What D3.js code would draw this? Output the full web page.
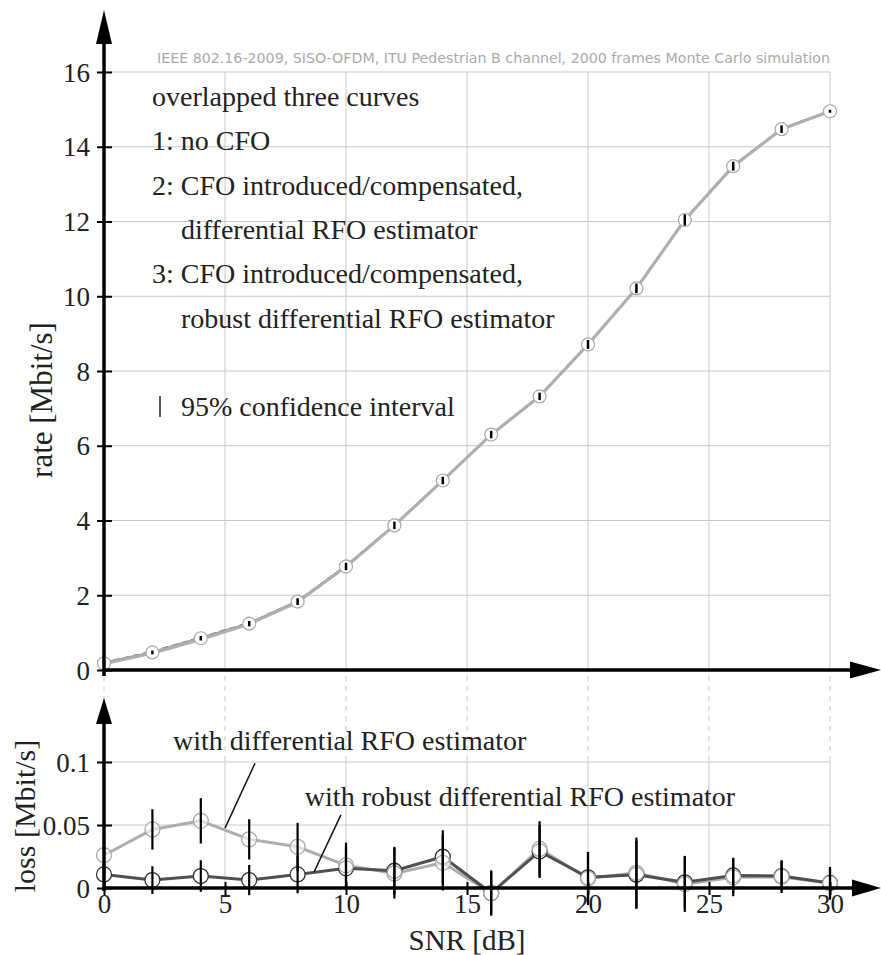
<!DOCTYPE html>
<html>
<head>
<meta charset="utf-8">
<script src="https://cdn.jsdelivr.net/npm/d3@7/dist/d3.min.js"></script>
<style>
  html, body { margin: 0; padding: 0; background: #fff; }
  svg { display: block; }
</style>
</head>
<body>
<svg id="chart" width="881" height="955"></svg>
<script>
// ---------------- data ----------------
const snr = [0, 2, 4, 6, 8, 10, 12, 14, 16, 18, 20, 22, 24, 26, 28, 30];

// upper panel: throughput rate [Mbit/s]
const rateNoCFO  = [0.21, 0.50, 0.88, 1.27, 1.85, 2.80, 3.89, 5.09, 6.31, 7.35, 8.72, 10.22, 12.04, 13.49, 14.48, 14.96];
const rateDiff   = [0.16, 0.44, 0.81, 1.22, 1.81, 2.77, 3.87, 5.07, 6.30, 7.32, 8.71, 10.21, 12.04, 13.48, 14.47, 14.95];
const rateRobust = [0.18, 0.47, 0.85, 1.24, 1.83, 2.77, 3.87, 5.07, 6.30, 7.32, 8.71, 10.21, 12.04, 13.48, 14.47, 14.95];
const rateCI     = [0.03, 0.05, 0.06, 0.07, 0.09, 0.10, 0.10, 0.10, 0.10, 0.10, 0.12, 0.13, 0.15, 0.12, 0.10, 0.04];

// lower panel: rate loss [Mbit/s]
const lossDiff     = [0.026, 0.0465, 0.0533, 0.0386, 0.0327, 0.018, 0.0116, 0.020, -0.004, 0.031, 0.0075, 0.012, 0.003, 0.0085, 0.009, 0.0037];
const lossRobust   = [0.0108, 0.0063, 0.0095, 0.0063, 0.0108, 0.0156, 0.0137, 0.0248, -0.004, 0.029, 0.0085, 0.0105, 0.0045, 0.0100, 0.0095, 0.0040];
const lossDiffCI   = [0.015, 0.016, 0.018, 0.016, 0.019, 0.018, 0.020, 0.022, 0.018, 0.022, 0.021, 0.028, 0.022, 0.015, 0.013, 0.013];
const lossRobustCI = [0.010, 0.011, 0.0125, 0.012, 0.015, 0.017, 0.019, 0.021, 0.017, 0.021, 0.020, 0.027, 0.021, 0.014, 0.012, 0.012];

// ticks
const xTicks      = [0, 5, 10, 15, 20, 25, 30];
const rateTicks   = [0, 2, 4, 6, 8, 10, 12, 14, 16];
const lossTicks   = [0, 0.05, 0.1];
const lossTickLabels = ["0", "0.05", "0.1"];

// texts
const titleText = "IEEE 802.16-2009, SISO-OFDM, ITU Pedestrian B channel, 2000 frames Monte Carlo simulation";
const legendLines = [
  {text: "overlapped three curves", indent: 0},
  {text: "1: no CFO", indent: 0},
  {text: "2: CFO introduced/compensated,", indent: 0},
  {text: "differential RFO estimator", indent: 1},
  {text: "3: CFO introduced/compensated,", indent: 0},
  {text: "robust differential RFO estimator", indent: 1}
];
const ciLegendText = "95% confidence interval";
// annotation labels in the loss panel: label anchor, leader line start & end (data units)
const lossNotes = [
  {text: "with differential RFO estimator", tx: 2.85, ty: 0.1095, x1: 6.24, y1: 0.0990, x2: 5.00, y2: 0.0475},
  {text: "with robust differential RFO estimator", tx: 8.30, ty: 0.0650, x1: 9.79, y1: 0.0580, x2: 8.68, y2: 0.0127}
];

// ---------------- drawing ----------------
const svg = d3.select("#chart");
const serif = "'Liberation Serif', 'Times New Roman', serif";
const textCol = "#222";
const gridCol = "#c8c8c8";

const x = d3.scaleLinear().domain([0, 30]).range([104, 830]);
const yTop = d3.scaleLinear().domain([0, 16]).range([670, 72]);
const yBot = d3.scaleLinear().domain([0, 0.1]).range([888, 762]);

const gGrid = svg.append("g");
// upper grid
gGrid.selectAll(".hgT").data(rateTicks.filter(d => d > 0)).join("line")
  .attr("x1", x(0)).attr("x2", x(30)).attr("y1", d => yTop(d)).attr("y2", d => yTop(d))
  .attr("stroke", gridCol).attr("stroke-width", 1);
gGrid.selectAll(".vgT").data(xTicks.filter(d => d > 0)).join("line")
  .attr("x1", d => x(d)).attr("x2", d => x(d)).attr("y1", yTop(16)).attr("y2", yTop(0))
  .attr("stroke", gridCol).attr("stroke-width", 1);
// dashed connectors between panels
gGrid.selectAll(".dg").data(xTicks).join("line")
  .attr("x1", d => x(d)).attr("x2", d => x(d)).attr("y1", yTop(0) + 6).attr("y2", yBot(0.1))
  .attr("stroke", gridCol).attr("stroke-width", 1).attr("stroke-dasharray", "5,5");
// lower grid
gGrid.selectAll(".hgB").data(lossTicks.filter(d => d > 0)).join("line")
  .attr("x1", x(0)).attr("x2", x(30)).attr("y1", d => yBot(d)).attr("y2", d => yBot(d))
  .attr("stroke", gridCol).attr("stroke-width", 1);
gGrid.selectAll(".vgB").data(xTicks.filter(d => d > 0)).join("line")
  .attr("x1", d => x(d)).attr("x2", d => x(d)).attr("y1", yBot(0.1)).attr("y2", yBot(0))
  .attr("stroke", gridCol).attr("stroke-width", 1);

// title
svg.append("text").attr("x", 830).attr("y", 63).attr("text-anchor", "end")
  .attr("font-family", "'DejaVu Sans', Verdana, sans-serif").attr("font-size", 14)
  .attr("fill", "#aaa").attr("textLength", 673).attr("lengthAdjust", "spacingAndGlyphs")
  .text(titleText);

// legend text
const gLeg = svg.append("g").attr("font-family", serif).attr("font-size", 28).attr("fill", textCol);
gLeg.selectAll("text").data(legendLines).join("text")
  .attr("x", d => d.indent ? 181 : 152)
  .attr("y", (d, i) => 106 + i * 44.3)
  .text(d => d.text);
gLeg.append("line").attr("x1", 160).attr("x2", 160).attr("y1", 396).attr("y2", 417)
  .attr("stroke", "#222").attr("stroke-width", 1.5);
gLeg.append("text").attr("x", 181).attr("y", 106 + 7 * 44.3).text(ciLegendText);

// ---- upper curves ----
const lineT = arr => d3.line().x((d, i) => x(snr[i])).y(d => yTop(d))(arr);
const gT = svg.append("g");
gT.append("path").attr("d", lineT(rateNoCFO)).attr("fill", "none").attr("stroke", "#444").attr("stroke-width", 1.2)
  .attr("stroke-dasharray", "6,4");
gT.append("path").attr("d", lineT(rateRobust)).attr("fill", "none").attr("stroke", "#a6a6a6").attr("stroke-width", 3);
gT.append("path").attr("d", lineT(rateDiff)).attr("fill", "none").attr("stroke", "#b0b0b0").attr("stroke-width", 2.5);
gT.selectAll("circle").data(rateRobust).join("circle")
  .attr("cx", (d, i) => x(snr[i])).attr("cy", d => yTop(d)).attr("r", 6.5)
  .attr("fill", "#fff").attr("stroke", "#a8a8a8").attr("stroke-width", 1.2);
gT.selectAll(".ci").data(rateRobust).join("line")
  .attr("x1", (d, i) => x(snr[i])).attr("x2", (d, i) => x(snr[i]))
  .attr("y1", (d, i) => yTop(d + rateCI[i])).attr("y2", (d, i) => yTop(d - rateCI[i]))
  .attr("stroke", "#000").attr("stroke-width", 2.5);

// ---- lower curves ----
const lineB = arr => d3.line().x((d, i) => x(snr[i])).y(d => yBot(d))(arr);
const gB = svg.append("g");
gB.append("path").attr("d", lineB(lossDiff)).attr("fill", "none").attr("stroke", "#adadad").attr("stroke-width", 3);
gB.append("path").attr("d", lineB(lossRobust)).attr("fill", "none").attr("stroke", "#505050").attr("stroke-width", 3);
gB.selectAll(".mR").data(lossRobust).join("circle")
  .attr("cx", (d, i) => x(snr[i])).attr("cy", d => yBot(d)).attr("r", 7.5)
  .attr("fill", "#fff").attr("stroke", "#333").attr("stroke-width", 1.3);
gB.selectAll(".mD").data(lossDiff).join("circle")
  .attr("cx", (d, i) => x(snr[i])).attr("cy", d => yBot(d)).attr("r", 7.5)
  .attr("fill", "#fff").attr("fill-opacity", 0.6).attr("stroke", "#aaa").attr("stroke-width", 1.3);
gB.selectAll(".eD").data(lossDiff).join("line")
  .attr("x1", (d, i) => x(snr[i])).attr("x2", (d, i) => x(snr[i]))
  .attr("y1", (d, i) => yBot(d + lossDiffCI[i])).attr("y2", (d, i) => yBot(d - lossDiffCI[i]))
  .attr("stroke", "#000").attr("stroke-width", 2.2);
gB.selectAll(".eR").data(lossRobust).join("line")
  .attr("x1", (d, i) => x(snr[i])).attr("x2", (d, i) => x(snr[i]))
  .attr("y1", (d, i) => yBot(d + lossRobustCI[i])).attr("y2", (d, i) => yBot(d - lossRobustCI[i]))
  .attr("stroke", "#000").attr("stroke-width", 2.2);

// annotations
const gN = svg.append("g").attr("font-family", serif).attr("font-size", 28).attr("fill", textCol);
gN.selectAll("text").data(lossNotes).join("text")
  .attr("x", d => x(d.tx)).attr("y", d => yBot(d.ty)).text(d => d.text);
gN.selectAll("line").data(lossNotes).join("line")
  .attr("x1", d => x(d.x1)).attr("y1", d => yBot(d.y1)).attr("x2", d => x(d.x2)).attr("y2", d => yBot(d.y2))
  .attr("stroke", "#111").attr("stroke-width", 1.5);

// ---- axes ----
const axW = 3.5;
const gA = svg.append("g");
// upper y axis line + arrow
gA.append("line").attr("x1", x(0)).attr("x2", x(0)).attr("y1", yTop(0) + 6).attr("y2", 30).attr("stroke", "#000").attr("stroke-width", axW);
gA.append("path").attr("d", `M${x(0)},10 L${x(0) - 8},44 L${x(0) + 8},44 Z`).attr("fill", "#000");
// upper x axis line + arrow
gA.append("line").attr("x1", x(0)).attr("x2", 860).attr("y1", yTop(0)).attr("y2", yTop(0)).attr("stroke", "#000").attr("stroke-width", axW);
gA.append("path").attr("d", `M881,${yTop(0)} L850,${yTop(0) - 8.5} L850,${yTop(0) + 8.5} Z`).attr("fill", "#000");
// lower y axis line + arrow
gA.append("line").attr("x1", x(0)).attr("x2", x(0)).attr("y1", yBot(0) + 3).attr("y2", 715).attr("stroke", "#000").attr("stroke-width", axW);
gA.append("path").attr("d", `M${x(0)},698 L${x(0) - 8},724 L${x(0) + 8},724 Z`).attr("fill", "#000");
// lower x axis line + arrow
gA.append("line").attr("x1", x(0)).attr("x2", 860).attr("y1", yBot(0)).attr("y2", yBot(0)).attr("stroke", "#000").attr("stroke-width", axW);
gA.append("path").attr("d", `M881,${yBot(0)} L852,${yBot(0) - 8.5} L852,${yBot(0) + 8.5} Z`).attr("fill", "#000");

// tick marks & labels via d3 axes
function styleAxis(g) {
  g.select(".domain").remove();
  g.attr("font-size", null).attr("font-family", null);
  g.selectAll("text").attr("font-family", serif).attr("font-size", 27).attr("fill", textCol);
  g.selectAll("line").attr("stroke", "#000").attr("stroke-width", 2);
}
const axTop = d3.axisLeft(yTop).tickValues(rateTicks).tickSize(7).tickPadding(7).tickFormat(d3.format("d"));
svg.append("g").attr("transform", `translate(${x(0)},0)`).call(axTop).call(styleAxis)
  .call(g => g.selectAll("line").attr("x1", 8))
  .call(g => g.selectAll("text").attr("dy", "0.34em"));

const axLossY = d3.axisLeft(yBot).tickValues(lossTicks).tickSize(7).tickPadding(7).tickFormat((d, i) => lossTickLabels[i]);
svg.append("g").attr("transform", `translate(${x(0)},0)`).call(axLossY).call(styleAxis)
  .call(g => g.selectAll("line").attr("x1", 8))
  .call(g => g.selectAll("text").attr("dy", "0.34em"));

const axX = d3.axisBottom(x).tickValues(xTicks).tickSize(7).tickFormat(d3.format("d"));
svg.append("g").attr("transform", `translate(0,${yBot(0)})`).call(axX).call(styleAxis)
  .call(g => g.selectAll("line").attr("y1", -6))
  .call(g => g.selectAll("text").attr("dy", null).attr("y", 25));

// axis titles
svg.append("text").attr("transform", `translate(52,400) rotate(-90)`).attr("text-anchor", "middle")
  .attr("font-family", serif).attr("font-size", 31).attr("fill", textCol).text("rate [Mbit/s]");
svg.append("text").attr("transform", `translate(35,816) rotate(-90)`).attr("text-anchor", "middle")
  .attr("font-family", serif).attr("font-size", 30).attr("fill", textCol).text("loss [Mbit/s]");
svg.append("text").attr("x", 467).attr("y", 950).attr("text-anchor", "middle")
  .attr("font-family", serif).attr("font-size", 29).attr("fill", textCol).text("SNR [dB]");
</script>
</body>
</html>
